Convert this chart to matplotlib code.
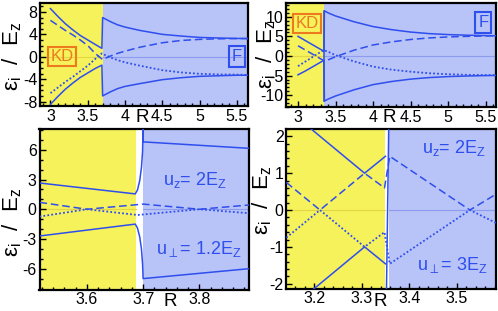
import numpy as np
import matplotlib
matplotlib.use("Agg")
import matplotlib.pyplot as plt
from matplotlib.ticker import MultipleLocator, FormatStrFormatter

plt.rcParams["font.family"] = ["Liberation Sans", "DejaVu Sans"]
plt.rcParams["mathtext.fontset"] = "custom"
plt.rcParams["mathtext.rm"] = "Liberation Sans"
plt.rcParams["mathtext.it"] = "Liberation Sans:italic"
plt.rcParams["mathtext.default"] = "regular"
plt.rcParams["axes.unicode_minus"] = False

YELLOW = "#F5F25C"
BLUE_BG = "#B8C3F8"
LINE = "#2F4EEE"
ORANGE = "#EE7A1E"

# ---------------- panel A (top left) ----------------
R_A = [3.0, 3.1, 3.2, 3.3, 3.4, 3.5, 3.6, 3.69,
       3.70, 3.8, 3.9, 4.0, 4.2, 4.5, 4.75, 5.0, 5.25, 5.5, 5.65]
A_solid_up = [8.6, 7.2, 5.9, 4.8, 3.8, 3.0, 2.2, 1.5,
              7.0, 6.3, 5.7, 5.3, 4.7, 4.0, 3.7, 3.45, 3.35, 3.27, 3.25]
A_solid_dn = [-8.5, -7.1, -5.8, -4.7, -3.7, -2.9, -2.1, -1.5,
              -7.0, -6.3, -5.7, -5.3, -4.8, -4.1, -3.75, -3.5, -3.4, -3.3, -3.3]
A_dash = [6.5, 5.6, 4.7, 3.9, 3.0, 2.0, 0.6, -0.4,
          -0.5, 0.1, 0.6, 1.0, 1.7, 2.5, 2.9, 3.1, 3.2, 3.25, 3.25]
A_dot = [-6.5, -5.5, -4.5, -3.6, -2.6, -1.6, -0.4, 0.6,
         0.5, -0.1, -0.6, -1.0, -1.6, -2.4, -2.8, -3.05, -3.15, -3.2, -3.25]
A_edge = 3.70

# ---------------- panel B (top right) ----------------
R_B = [3.0, 3.1, 3.2, 3.3, 3.345,
       3.352, 3.4, 3.5, 3.75, 4.0, 4.25, 4.5, 4.75, 5.0, 5.25, 5.5, 5.65]
B_solid_up = [5.0, 3.9, 2.8, 1.7, 1.2,
              11.5, 11.0, 10.2, 8.7, 7.5, 6.7, 6.1, 5.7, 5.45, 5.3, 5.2, 5.15]
B_solid_dn = [-4.8, -3.8, -2.7, -1.6, -1.1,
              -11.5, -11.0, -10.2, -8.6, -7.3, -6.5, -5.9, -5.5, -5.25, -5.1, -5.0, -4.95]
B_dash = [2.6, 1.5, 0.4, -0.7, -1.2,
          -1.3, -1.0, -0.2, 1.5, 2.8, 3.6, 4.2, 4.6, 4.85, 5.0, 5.1, 5.15]
B_dot = [-2.6, -1.4, -0.2, 1.0, 1.5,
         1.4, 1.1, 0.2, -1.4, -2.7, -3.5, -4.0, -4.4, -4.65, -4.8, -4.85, -4.9]
B_jump_R = [3.352, 3.352]
B_jump = [-11.5, 11.5]
B_edge = 3.345

# ---------------- panel C (bottom left) ----------------
R_C_up = [3.516, 3.686, 3.690, 3.694, 3.697, 3.699, 3.700, 3.700, 3.888]
C_solid_up = [2.65, 1.55, 1.95, 2.9, 4.2, 5.8, 8.5, 6.8, 6.15]
R_C_dn = [3.516, 3.686, 3.690, 3.694, 3.697, 3.699, 3.700, 3.888]
C_solid_dn = [-2.7, -1.5, -1.9, -2.8, -4.0, -5.5, -7.0, -6.0]
R_C_dash = [3.516, 3.60, 3.70, 3.80, 3.888]
C_dash = [0.7, 0.0, 0.52, 0.0, 0.43]
R_C_dot = [3.516, 3.60, 3.69, 3.80, 3.888]
C_dot = [-0.74, 0.0, -0.58, 0.0, -0.4]
C_edges = (3.687, 3.699)

# ---------------- panel D (bottom right) ----------------
R_D_solid = [3.185, 3.306, 3.350]
D_solid_up = [2.29, 1.0, 1.46]
D_solid_dn = [-2.29, -1.0, -1.46]
R_D_mid = [3.141, 3.212, 3.306, 3.348, 3.359, 3.528, 3.583]
D_dash = [0.75, 0.0, 1.0, 0.6, 1.46, 0.0, 0.43]
D_dot = [-0.75, 0.0, -1.0, -0.6, -1.46, 0.0, -0.35]
D_jump_R = [3.352, 3.357]
D_jump = [-2.3, 2.3]
D_edges = (3.348, 3.358)

W, H = 498, 311


def rect(x0, x1, y0, y1):
    return [x0 / W, 1 - y1 / H, (x1 - x0) / W, (y1 - y0) / H]


def prep(ax, xlim, ylim, xmaj, xmin, ymaj, ymin, edges):
    lo, hi = edges
    ax.axvspan(xlim[0] - 1, lo, color=YELLOW, lw=0, zorder=0)
    ax.axvspan(hi, xlim[1] + 1, color=BLUE_BG, lw=0, zorder=0)
    ax.plot([xlim[0], lo], [0, 0], color="#E3D548", lw=0.8, zorder=1)
    ax.plot([hi, xlim[1]], [0, 0], color="#8C9DF0", lw=0.8, zorder=1)
    ax.set_xlim(xlim)
    ax.set_ylim(ylim)
    ax.xaxis.set_major_locator(MultipleLocator(xmaj))
    ax.xaxis.set_minor_locator(MultipleLocator(xmin))
    ax.yaxis.set_major_locator(MultipleLocator(ymaj))
    ax.yaxis.set_minor_locator(MultipleLocator(ymin))
    ax.xaxis.set_major_formatter(FormatStrFormatter("%g"))
    ax.yaxis.set_major_formatter(FormatStrFormatter("%g"))
    ax.tick_params(which="both", direction="in", top=False, right=False,
                   labelsize=11.5, width=1.0)
    ax.tick_params(which="major", length=4.5, pad=2)
    ax.tick_params(which="minor", length=2.5)
    for s in ax.spines.values():
        s.set_linewidth(1.6)


kw = dict(color=LINE, lw=1.1, zorder=3)
DASH = (0, (5, 2.5))
DOT = (0, (1, 1.2))

fig = plt.figure(figsize=(W / 100, H / 100), dpi=100)

# A
ax = fig.add_axes(rect(40, 248, 3, 106))
prep(ax, (2.86, 5.65), (-8.8, 9.6), 0.5, 0.1, 4, 1, (A_edge, A_edge))
ax.plot(R_A, A_solid_up, **kw)
ax.plot(R_A, A_solid_dn, **kw)
ax.plot(R_A, A_dash, ls=DASH, **kw)
ax.plot(R_A, A_dot, ls=DOT, color=LINE, lw=1.3, zorder=3)
ax.text(3.155, 0, "KD", color=ORANGE, fontsize=12, ha="center", va="center", zorder=5,
        bbox=dict(boxstyle="square,pad=0.12", fc="none", ec=ORANGE, lw=1.5))
ax.text(5.5, 0, "F", color=LINE, fontsize=12, ha="center", va="center", zorder=5,
        bbox=dict(boxstyle="square,pad=0.18", fc="none", ec=LINE, lw=1.5))

# B
ax = fig.add_axes(rect(286, 496, 3, 107))
prep(ax, (2.84, 5.64), (-13.0, 13.5), 0.5, 0.1, 5, 1, (B_edge, B_edge))
ax.plot(R_B, B_solid_up, **kw)
ax.plot(R_B, B_solid_dn, **kw)
ax.plot(B_jump_R, B_jump, **kw)
ax.plot(R_B, B_dash, ls=DASH, **kw)
ax.plot(R_B, B_dot, ls=DOT, color=LINE, lw=1.3, zorder=3)
ax.text(3.12, 8.3, "KD", color=ORANGE, fontsize=12, ha="center", va="center", zorder=5,
        bbox=dict(boxstyle="square,pad=0.12", fc="none", ec=ORANGE, lw=1.5))
ax.text(5.47, 8.5, "F", color=LINE, fontsize=12, ha="center", va="center", zorder=5,
        bbox=dict(boxstyle="square,pad=0.18", fc="none", ec=LINE, lw=1.5))

# C
ax = fig.add_axes(rect(39.5, 249, 129, 289.5))
prep(ax, (3.516, 3.888), (-8.1, 8.1), 0.1, 0.02, 3, 1, C_edges)
ax.plot(R_C_up, C_solid_up, **kw)
ax.plot(R_C_dn, C_solid_dn, **kw)
ax.plot(R_C_dash, C_dash, ls=DASH, **kw)
ax.plot(R_C_dot, C_dot, ls=DOT, color=LINE, lw=1.3, zorder=3)
ax.text(3.792, 3.0, r"u$_z$= 2E$_Z$", color=LINE, fontsize=13, ha="center", va="center")
ax.text(3.798, -4.0, r"u$_\perp$= 1.2E$_Z$", color=LINE, fontsize=13, ha="center", va="center")

# D
ax = fig.add_axes(rect(286.3, 496, 129, 288.5))
prep(ax, (3.141, 3.583), (-2.13, 2.2), 0.1, 0.02, 1, 0.2, D_edges)
ax.plot(R_D_solid, D_solid_up, **kw)
ax.plot(R_D_solid, D_solid_dn, **kw)
ax.plot(D_jump_R, D_jump, **kw)
ax.plot(R_D_mid, D_dash, ls=DASH, **kw)
ax.plot(R_D_mid, D_dot, ls=DOT, color=LINE, lw=1.3, zorder=3)
ax.text(3.495, 1.68, r"u$_z$= 2E$_Z$", color=LINE, fontsize=13, ha="center", va="center",
        clip_on=True)
ax.text(3.49, -1.48, r"u$_\perp$= 3E$_Z$", color=LINE, fontsize=13, ha="center", va="center")

# axis labels placed as in the reference
ylab = r"ε$_i$  /  E$_z$"
for (px, py) in [(12, 56), (266, 54), (12, 222), (262, 200)]:
    fig.text(px / W, 1 - py / H, ylab, rotation=90, fontsize=16,
             ha="center", va="center")
for (px, py) in [(142.5, 118), (389, 118), (170, 302), (380, 301)]:
    fig.text(px / W, 1 - py / H, "R", fontsize=13.5, ha="center", va="center")

fig.savefig("out.png", dpi=100)
